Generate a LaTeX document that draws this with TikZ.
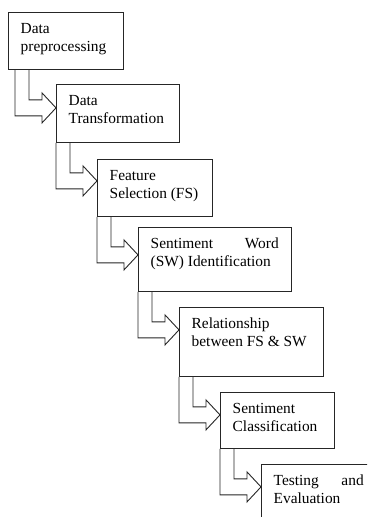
\documentclass[tikz,border=0pt]{standalone}
\usepackage{fontspec}
\setmainfont{Liberation Serif}
\usetikzlibrary{calc}
\tikzset{
  box/.style={draw=black!85, line width=0.9pt, rectangle, inner sep=0pt, anchor=north west},
  txt/.style={inner sep=0pt, anchor=base west, font=\fontsize{15.4}{18}\selectfont},
  arr/.style={draw=black!85, line width=0.9pt, line join=miter},
}
\newcommand\hollowarrow[2]{%
  \draw[arr] let \p1=(#1.south), \p2=(#2.north west) in
    (\x2-27pt,\y1) -- (\x2-27pt,\y1-30pt) -- (\x2-14pt,\y1-30pt) -- (\x2-14pt,\y1-23pt)
    -- (\x2,\y1-38pt) -- (\x2-14pt,\y1-53pt) -- (\x2-14pt,\y1-46pt)
    -- (\x2-41pt,\y1-46pt) -- (\x2-41pt,\y1);
}
\newcommand\boxtext[3]{%
  \node[txt] (t#1) at ($(b#1.north west)+(12.5pt,-21pt)$) {\parbox[t]{#2}{#3}};
}
\begin{document}
\begin{tikzpicture}[x=1pt,y=-1pt]
  \useasboundingbox (0,0) rectangle (367,517);
  \clip (0,0) rectangle (367,517);
  \fill[white] (0,0) rectangle (367,517);
  \node[box, minimum width=115pt, minimum height=57pt] (b1) at (8,12) {};
  \node[box, minimum width=123pt, minimum height=58pt] (b2) at (56,84) {};
  \node[box, minimum width=115pt, minimum height=57pt] (b3) at (97,159) {};
  \node[box, minimum width=153pt, minimum height=64pt] (b4) at (138,227) {};
  \node[box, minimum width=144pt, minimum height=69pt] (b5) at (179,307) {};
  \node[box, minimum width=114pt, minimum height=56pt] (b6) at (220,392) {};
  \node[box, minimum width=130pt, minimum height=80pt] (b7) at (261,464) {};
  \hollowarrow{b1}{b2}
  \hollowarrow{b2}{b3}
  \hollowarrow{b3}{b4}
  \hollowarrow{b4}{b5}
  \hollowarrow{b5}{b6}
  \hollowarrow{b6}{b7}
  \boxtext{1}{100pt}{Data\\preprocessing}
  \boxtext{2}{110pt}{Data\\Transformation}
  \boxtext{3}{100pt}{Feature\\Selection (FS)}
  \boxtext{4}{128pt}{Sentiment\hfill Word\\(SW) Identification}
  \boxtext{5}{130pt}{Relationship\\between FS \& SW}
  \boxtext{6}{100pt}{Sentiment\\Classification}
  \boxtext{7}{90pt}{Testing\hfill and\\Evaluation}
\end{tikzpicture}
\end{document}
